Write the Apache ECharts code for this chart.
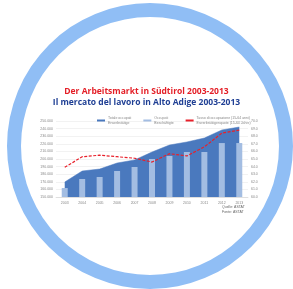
<!DOCTYPE html>
<html><head><meta charset="utf-8">
<script src="https://cdn.jsdelivr.net/npm/echarts@6/dist/echarts.min.js"></script>
<style>html,body{margin:0;padding:0;background:#fff}#c{width:293px;height:289px}</style>
</head><body><div id="c"></div>
<script>
var years = ['2003','2004','2005','2006','2007','2008','2009','2010','2011','2012','2013'];
var totalEmployed = [169700,184200,186800,194700,198700,209200,218400,222400,227600,238200,242100];
var employees = [161800,173700,176300,184200,189500,200000,204000,209200,209200,221000,221000];
var employmentRate = [63.9,65.3,65.5,65.3,65.1,64.6,65.7,65.4,66.6,68.4,68.8];
var legendNames = ['Totale occupati\nErwerbstätige', 'Occupati\nBeschäftigte', 'Tasso di occupazione (15-64 anni)\nErwerbstätigenquote (15-64 Jahre)'];

var chart = echarts.init(document.getElementById('c'), null, {renderer:'canvas'});
function fmtK(v){ return String(v).replace(/\B(?=(\d{3})+(?!\d))/g, '.'); }
chart.setOption({
  animation:false,
  backgroundColor:'#fff',
  graphic:[
    {type:'ring', shape:{cx:150, cy:146, r:143, r0:129}, z:-10,
     style:{fill:'#90bef5'}},
    {type:'text', left:222, top:205, style:{text:'Quelle: ASTAT\nFonte: ASTAT', fontSize:3.5, fill:'#666', lineHeight:5}}
  ],
  title:[
    {text:'Der Arbeitsmarkt in Südtirol 2003-2013', left:'center', top:82, textStyle:{color:'#e41e26', fontSize:8.5, fontWeight:'bold', fontFamily:'Open Sans'}},
    {text:'Il mercato del lavoro in Alto Adige 2003-2013', left:'center', top:93, textStyle:{color:'#1f3f94', fontSize:8.5, fontWeight:'bold', fontFamily:'Open Sans'}}
  ],
  legend:{
    top:111, left:92, itemWidth:8, itemHeight:2, itemGap:12,
    data:[{name:legendNames[0], icon:'rect'},{name:legendNames[1], icon:'rect'},{name:legendNames[2], icon:'rect'}],
    textStyle:{fontSize:3.5, color:'#888', lineHeight:4.5, padding:[0,0,0,-2]}
  },
  grid:{left:56, right:45, top:121, bottom:92},
  xAxis:{type:'category', data:years, boundaryGap:true,
    axisLine:{lineStyle:{color:'#ccc', width:0.5}}, axisTick:{show:false},
    axisLabel:{fontSize:3.5, color:'#888', margin:4}},
  yAxis:[
    {type:'value', min:150000, max:250000, interval:10000,
     axisLabel:{fontSize:3.5, color:'#888', margin:3, formatter:fmtK},
     splitLine:{lineStyle:{color:'#e4e4e4', width:0.5}}, axisLine:{show:false}, axisTick:{show:false}},
    {type:'value', min:60, max:70, interval:1, position:'right',
     axisLabel:{fontSize:3.5, color:'#888', margin:3, formatter:function(v){return v.toFixed(1);}},
     splitLine:{show:false}, axisLine:{show:false}, axisTick:{show:false}}
  ],
  series:[
    {name:legendNames[0], type:'line', data:totalEmployed, symbol:'none', z:1,
     itemStyle:{color:'#4a79be'}, lineStyle:{width:0.5, color:'#4a79be'}, areaStyle:{color:'#4a79be', opacity:1}},
    {name:legendNames[1], type:'bar', data:employees, barWidth:6, z:2,
     itemStyle:{color:'#a3bde2'}},
    {name:legendNames[2], type:'line', yAxisIndex:1, data:employmentRate, symbol:'none', z:3,
     itemStyle:{color:'#e8202a'}, lineStyle:{color:'#e8202a', width:1.2, type:[3,1.5]}}
  ]
});
</script></body></html>
